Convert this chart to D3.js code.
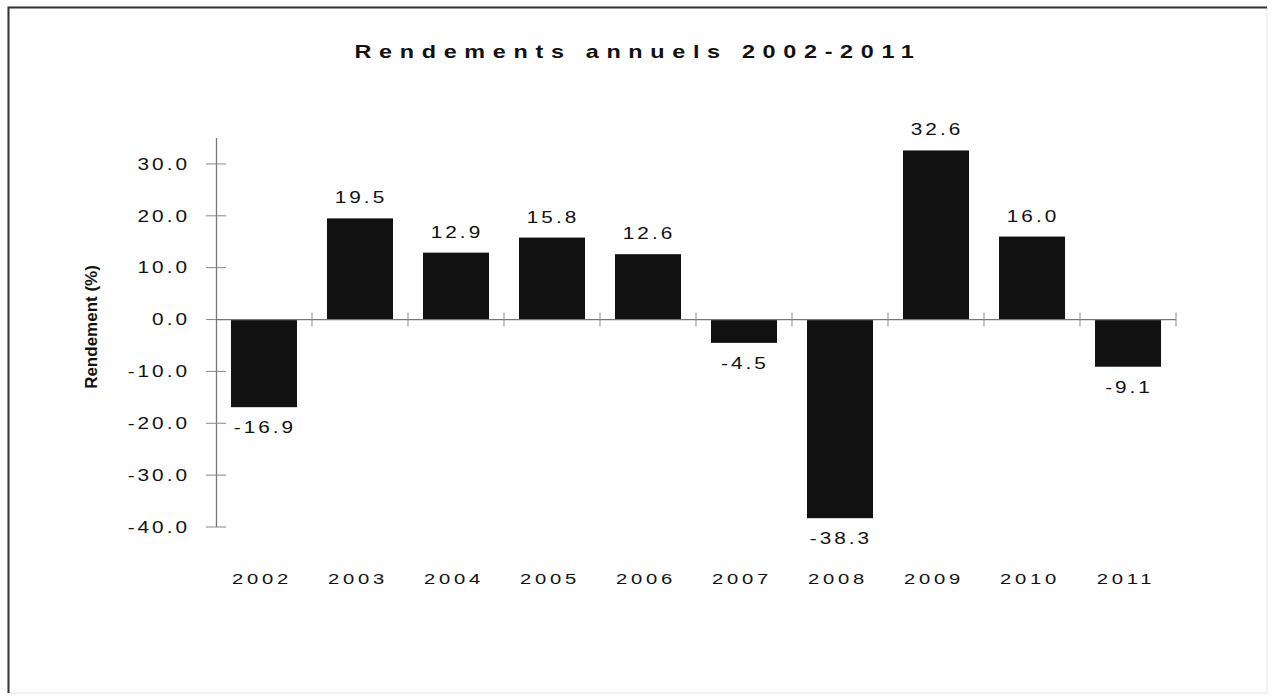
<!DOCTYPE html>
<html>
<head>
<meta charset="utf-8">
<script src="https://cdn.jsdelivr.net/npm/d3@7"></script>
<style>
  body { margin: 0; background: #fff; }
  text { font-family: "Liberation Sans", Arial, sans-serif; fill: #111; }
</style>
</head>
<body>
<svg id="chart"></svg>
<script>
// Data
const years = ["2002", "2003", "2004", "2005", "2006", "2007", "2008", "2009", "2010", "2011"];
const returns = [-16.9, 19.5, 12.9, 15.8, 12.6, -4.5, -38.3, 32.6, 16.0, -9.1];
const yTicks = [30, 20, 10, 0, -10, -20, -30, -40];

const W = 1272, H = 698;
const margin = { top: 138, right: 96, bottom: 171, left: 216 };
const width = W - margin.left - margin.right;
const height = H - margin.top - margin.bottom;

const fmt = v => v.toFixed(1);   // plain hyphen, like the original

const svg = d3.select("#chart").attr("width", W).attr("height", H);

// Frame
svg.append("rect")
    .attr("x", 8).attr("y", 7).attr("width", 1259).attr("height", 686)
    .attr("fill", "none").attr("stroke", "#e4e4e4").attr("stroke-width", 1);
svg.append("path")
    .attr("d", "M8.5,693 L8.5,7.5 L1267,7.5")
    .attr("fill", "none").attr("stroke", "#333").attr("stroke-width", 2);

// Title (the original's lettering is wide, so text gets a horizontal stretch)
svg.append("g")
    .attr("transform", "translate(638,58) scale(1.3,1)")
    .append("text")
    .attr("text-anchor", "middle")
    .style("font-size", "18px").style("font-weight", "bold")
    .style("letter-spacing", "5.9px")
    .text("Rendements annuels 2002-2011");

const g = svg.append("g").attr("transform", `translate(${margin.left},${margin.top})`);

const x = d3.scaleBand().domain(years).range([0, width]).paddingInner(0.3125).paddingOuter(0.156);
const band = d3.scaleBand().domain(years).range([0, width]);
const y = d3.scaleLinear().domain([35, -40]).range([0, height]);

// Y axis line
g.append("line")
    .attr("x1", 0.5).attr("x2", 0.5).attr("y1", 0).attr("y2", y(-40))
    .attr("stroke", "#777").attr("stroke-width", 1.3);

// Y ticks
const yt = g.selectAll(".ytick").data(yTicks).enter().append("g")
    .attr("transform", d => `translate(0,${y(d)})`);
yt.append("line").attr("x1", -10).attr("x2", 10).attr("stroke", "#888").attr("stroke-width", 1);
yt.append("g")
    .attr("transform", "translate(-26,0) scale(1.3,1)")
    .append("text")
    .attr("dy", "0.36em")
    .attr("text-anchor", "end")
    .style("font-size", "16px").style("letter-spacing", "2.3px")
    .text(fmt);

// Bars
g.selectAll(".bar").data(returns).enter().append("rect")
    .attr("x", (d, i) => x(years[i]))
    .attr("width", x.bandwidth())
    .attr("y", d => y(Math.max(0, d)))
    .attr("height", d => Math.abs(y(d) - y(0)))
    .attr("fill", "#111");

// X axis line + ticks at category boundaries
g.append("line")
    .attr("x1", 0).attr("x2", width).attr("y1", y(0)).attr("y2", y(0))
    .attr("stroke", "#777").attr("stroke-width", 1.3);
g.selectAll(".xtick").data(years).enter().append("line")
    .attr("x1", d => band(d) + band.bandwidth())
    .attr("x2", d => band(d) + band.bandwidth())
    .attr("y1", y(0) - 7).attr("y2", y(0) + 7)
    .attr("stroke", "#888");

// Value labels
g.selectAll(".val").data(returns).enter().append("g")
    .attr("transform", (d, i) => {
        const cx = x(years[i]) + x.bandwidth() / 2 + 1;
        const cy = d >= 0 ? y(d) - 15 : y(d) + 26;
        return `translate(${cx},${cy}) scale(1.3,1)`;
    })
    .append("text")
    .attr("text-anchor", "middle")
    .style("font-size", "16px").style("letter-spacing", "2.3px")
    .text(fmt);

// Year labels
g.selectAll(".year").data(years).enter().append("g")
    .attr("transform", d => `translate(${band(d) + band.bandwidth() / 2 - 2},446) scale(1.35,1)`)
    .append("text")
    .attr("text-anchor", "middle")
    .style("font-size", "15px").style("letter-spacing", "2.8px")
    .text(d => d);

// Y axis title
svg.append("text")
    .attr("transform", `translate(97,327) rotate(-90)`)
    .attr("text-anchor", "middle")
    .style("font-size", "17px").style("font-weight", "bold")
    .text("Rendement (%)");
</script>
</body>
</html>
